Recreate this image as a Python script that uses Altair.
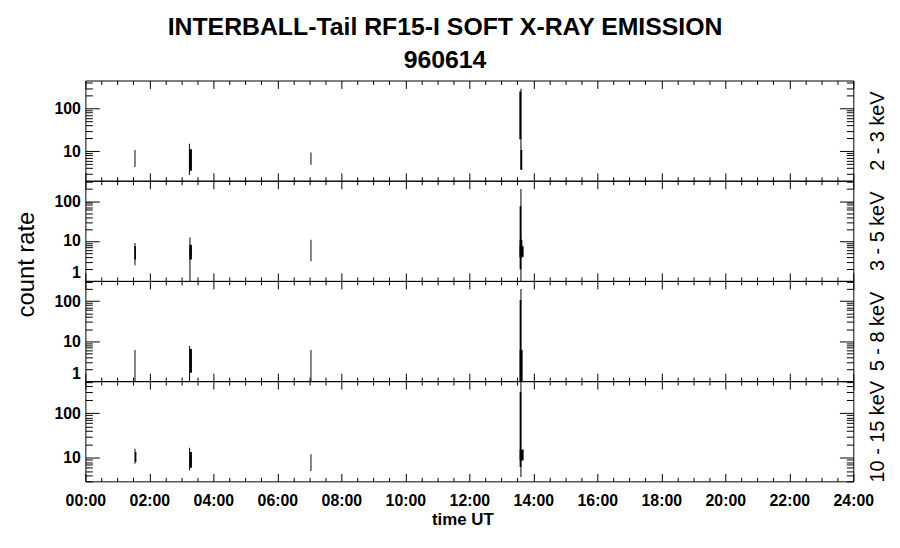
import altair as alt
import pandas as pd

FONT = "Liberation Sans"

# energy channels (one panel each) and their y-ranges (count rate, log)
channels = ["2 - 3 keV", "3 - 5 keV", "5 - 8 keV", "10 - 15 keV"]
y_lows = [2.04, 1.0, 1.0, 2.95]
y_highs = [455, 324, 320, 520]

# bursts: time interval (hours UT) and count-rate range seen in that interval
burst_panel = [0, 0, 0, 0, 0, 0, 0,
               1, 1, 1, 1, 1, 1, 1, 1, 1,
               2, 2, 2, 2, 2, 2, 2,
               3, 3, 3, 3, 3, 3, 3, 3]
burst_start = [1.535, 3.235, 3.247, 7.035, 13.597, 13.563, 13.600,
               1.535, 1.530, 3.253, 3.247, 7.035, 13.597, 13.572, 13.572, 13.572,
               1.535, 3.241, 3.268, 7.035, 13.597, 13.572, 13.572,
               1.535, 1.550, 3.241, 3.268, 7.035, 13.597, 13.572, 13.572]
burst_end = [1.565, 3.265, 3.330, 7.065, 13.628, 13.625, 13.653,
             1.565, 1.580, 3.284, 3.330, 7.065, 13.628, 13.625, 13.656, 13.696,
             1.565, 3.272, 3.330, 7.065, 13.628, 13.625, 13.665,
             1.565, 1.594, 3.272, 3.330, 7.065, 13.628, 13.625, 13.696]
burst_low = [4.3, 2.77, 3.5, 4.8, 3.67, 19, 3.67,
             2.47, 3.46, 0.9, 3.46, 3.1, 0.9, 1.96, 3.8, 4.0,
             0.9, 0.9, 1.63, 0.9, 0.9, 0.9, 0.9,
             7.3, 8.0, 5.2, 5.97, 5.0, 3.7, 6.2, 8.7]
burst_high = [10.7, 15.0, 11.1, 9.3, 292, 252, 10.7,
              8.9, 7.4, 12.3, 8.1, 10.8, 202, 74, 10.8, 7.4,
              6.0, 7.55, 6.4, 6.0, 200, 106, 6.0,
              15.9, 13.4, 16.7, 13.4, 12.0, 600, 295, 15.3]

# time axis ticks: major every 2 h, minor every 30 min
x_ticks = [h / 2 for h in range(0, 49)]
y_majors = [1, 10, 100]

bursts = pd.DataFrame({
    "panel": burst_panel,
    "t0": burst_start,
    "t1": burst_end,
    "lo": burst_low,
    "hi": burst_high,
})

X_TICK_EXPR = "datum.value % 2 == 0 ? -8 : -4"
Y_TICK_EXPR = "indexof([1, 10, 100], datum.value) >= 0 ? -14 : -7"
X_LABEL_EXPR = "datum.value % 2 == 0 ? (datum.value < 10 ? '0' : '') + datum.value + ':00' : ''"
Y_LABEL_EXPR = "indexof([1, 10, 100], datum.value) >= 0 ? format(datum.value, 'd') : ''"


def make_panel(i):
    df = bursts[bursts["panel"] == i]
    lo, hi = y_lows[i], y_highs[i]
    y_ticks = [m * 10 ** e for e in range(0, 3) for m in range(1, 10)
               if lo <= m * 10 ** e <= hi]
    last = i == len(channels) - 1
    xs = alt.Scale(domain=[0, 24], nice=False, zero=False)
    ys = alt.Scale(type="log", domain=[lo, hi], nice=False)

    bottom_kw = dict(orient="bottom", values=x_ticks, tickSize={"expr": X_TICK_EXPR},
                     labels=last, labelExpr=X_LABEL_EXPR, labelPadding=32,
                     labelBaseline="alphabetic", labelFlush=False, labelOverlap=False,
                     domain=True)
    if last:
        bottom_kw.update(title="time UT", titleFontSize=17, titleFontWeight="bold",
                         titleX=380, titleY=44, titleBaseline="alphabetic")
    left_kw = dict(orient="left", values=y_ticks, tickSize={"expr": Y_TICK_EXPR},
                   labelExpr=Y_LABEL_EXPR, labelPadding=19, labelFlush=True,
                   labelOverlap=False)
    if i == 1:
        left_kw.update(title="count rate", titleFontSize=24, titleFontWeight="normal",
                       titleAngle=270, titleX=-52, titleY=84, titleAlign="center",
                       titleBaseline="alphabetic")

    main = alt.Chart(df).mark_rect(color="black", clip=True).encode(
        x=alt.X("t0:Q", scale=xs, axis=alt.Axis(**bottom_kw),
                title=("time UT" if last else None)),
        x2="t1:Q",
        y=alt.Y("lo:Q", scale=ys, axis=alt.Axis(**left_kw),
                title=("count rate" if i == 1 else None)),
        y2="hi:Q",
    )
    frame = alt.Chart(df).mark_rect(opacity=0, clip=True).encode(
        x=alt.X("t0:Q", scale=xs, title=None,
                axis=alt.Axis(orient="top", values=x_ticks,
                              tickSize={"expr": X_TICK_EXPR}, labels=False)),
        x2="t1:Q",
        y=alt.Y("lo:Q", scale=ys, title=channels[i],
                axis=alt.Axis(orient="right", values=y_ticks,
                              tickSize={"expr": Y_TICK_EXPR}, labels=False,
                              titleAngle=270, titleX=30, titleAlign="center",
                              titleBaseline="alphabetic", titleFontSize=20,
                              titleFontWeight="normal")),
        y2="hi:Q",
    )
    return alt.layer(main, frame).resolve_axis(x="independent", y="independent").properties(
        width=774, height=101)


panels = [make_panel(i) for i in range(len(channels))]

chart = alt.vconcat(*panels, spacing=0, bounds="flush").properties(
    title=alt.TitleParams(
        text=["INTERBALL-Tail RF15-I SOFT X-RAY EMISSION", "960614"],
        font=FONT, fontSize=25, fontWeight="bold", color="black",
        lineHeight=33, anchor="middle", offset=2, dx=-6,
    ),
    padding={"left": 7, "top": 5, "right": 5, "bottom": 5},
).configure_view(stroke=None).configure_axis(
    grid=False, domainColor="black", tickColor="black", domainWidth=1, tickWidth=1,
    labelFont=FONT, labelFontSize=16, labelFontWeight="bold", labelColor="black",
    titleFont=FONT, titleColor="black",
).configure_concat(spacing=0)

chart.save("out.html", embed_options={"renderer": "svg", "actions": False})
